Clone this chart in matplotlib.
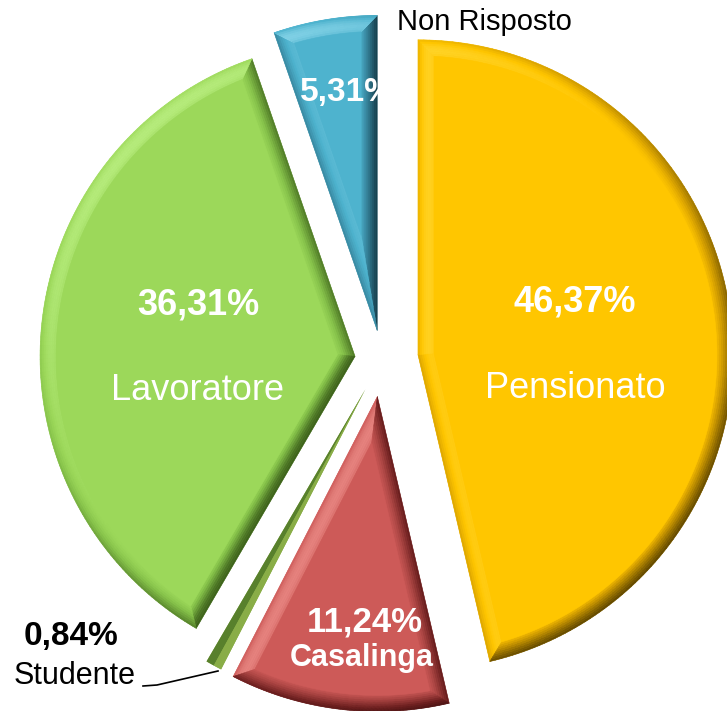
"""Exploded pie of respondents by occupation."""
import matplotlib
matplotlib.use('Agg')
import matplotlib.pyplot as plt
import numpy as np
from matplotlib.colors import LinearSegmentedColormap
from matplotlib.collections import PolyCollection
from matplotlib.patches import Polygon, Wedge

plt.rcParams['font.family'] = ['Liberation Sans', 'DejaVu Sans']

labels = ['Pensionato', 'Casalinga', 'Studente', 'Lavoratore', 'Non Risposto']
values = [46.37, 11.24, 0.84, 36.31, 5.31]
pct_text = ['46,37%', '11,24%', '0,84%', '36,31%', '5,31%']
explode = [0.115, 0.12, 0.11, 0.086, 0.092]

face_colors = ['#FFC600', '#CD5A58', '#8AAE48', '#9CD85A', '#4EB3CE']
# very dark, dark, mid, face, highlight
shade_colors = [['#2A1E00', '#8F6A00', '#DDA600', '#FFC600', '#FFDC40'],
                ['#1A0404', '#6A1E1E', '#B04846', '#CD5A58', '#E88682'],
                ['#33501A', '#557D2A', '#76993C', '#8AAE48', '#A8CC70'],
                ['#24400C', '#4E7826', '#86C24A', '#9CD85A', '#B6EC7C'],
                ['#05121A', '#1C4C5C', '#3C8FA8', '#4EB3CE', '#86D4E8']]
shade_stops = [0.0, 0.42, 0.72, 0.86, 1.0]

W, H = 727, 711
center = (382, 352)
R = 315
BEVEL = 16
LIGHT = np.array([-0.45, 0.5, 0.72])
LIGHT = LIGHT / np.linalg.norm(LIGHT)
NB = 8


def shade(n2, phi):
    # lambert on a tilted bevel; 0.86 on the colormap is the flat face colour
    t = np.cos(phi) * (n2[0] * LIGHT[0] + n2[1] * LIGHT[1]) + np.sin(phi) * LIGHT[2]
    delta = t - LIGHT[2]
    if delta <= 0:
        return 0.86 * (1 + delta / (1 + LIGHT[2]))
    return 0.86 + 0.14 * min(delta / (1 - LIGHT[2]), 1)


def bevel(cx, cy, r, t1, t2, d):
    a1, a2 = np.radians(t1), np.radians(t2)
    half = (a2 - a1) / 2
    mid = (a1 + a2) / 2
    k = d / np.sin(half)
    px, py = k * np.cos(mid), k * np.sin(mid)

    def hit(a):
        ux, uy = np.cos(a), np.sin(a)
        b = px * ux + py * uy
        c = px * px + py * py - (r - d) ** 2
        t = -b + np.sqrt(b * b - c)
        return px + t * ux, py + t * uy

    h1, h2 = hit(a1), hit(a2)
    b1 = np.arctan2(h1[1], h1[0])
    b2 = np.arctan2(h2[1], h2[0])
    while b2 < b1:
        b2 += 2 * np.pi
    A = np.array([cx, cy])
    Ai = A + [px, py]
    angs = np.linspace(a1, a2, 160)
    outer_arc = [A + r * np.array([np.cos(a), np.sin(a)]) for a in angs]
    inner_arc = [A + (r - d) * np.array([np.cos(b), np.sin(b)])
                 for b in np.linspace(b1, b2, 160)]
    face = [Ai] + inner_arc

    quads, vals = [], []
    s = np.linspace(0, 1, NB + 1)

    def strip(o0, o1, i0, i1, n2):
        for j in range(NB):
            q = [o0 + (i0 - o0) * s[j], o1 + (i1 - o1) * s[j],
                 o1 + (i1 - o1) * s[j + 1], o0 + (i0 - o0) * s[j + 1]]
            quads.append(q)
            sm = 0.5 * (s[j] + s[j + 1])
            vals.append(shade(n2, np.radians(8 + 70 * sm)))

    strip(A, outer_arc[0], Ai, inner_arc[0],
          (np.cos(a1 - np.pi / 2), np.sin(a1 - np.pi / 2)))
    strip(A, outer_arc[-1], Ai, inner_arc[-1],
          (np.cos(a2 + np.pi / 2), np.sin(a2 + np.pi / 2)))
    for m in range(len(angs) - 1):
        am = 0.5 * (angs[m] + angs[m + 1])
        strip(outer_arc[m], outer_arc[m + 1], inner_arc[m], inner_arc[m + 1],
              (np.cos(am), np.sin(am)))
    return face, quads, vals


fig = plt.figure(figsize=(7.27, 7.11), dpi=100)
ax = fig.add_axes([0, 0, 1, 1])
# pie explode is absolute, so scale by the radius
wedges, _ = ax.pie(values, explode=[e * R for e in explode], startangle=90,
                   counterclock=False, center=center, radius=R,
                   colors=face_colors, wedgeprops=dict(linewidth=0))

for i, w in enumerate(wedges):
    cmap = LinearSegmentedColormap.from_list(
        'sh%d' % i, list(zip(shade_stops, shade_colors[i])))
    cx, cy = w.center
    if labels[i] == 'Studente':
        tm = 0.5 * (w.theta1 + w.theta2)
        ax.add_patch(Wedge((cx, cy), w.r, w.theta1, tm, color=cmap(0.45), lw=0, zorder=2))
        ax.add_patch(Wedge((cx, cy), w.r, tm, w.theta2, color=cmap(0.85), lw=0, zorder=2))
        continue
    face, quads, vals = bevel(cx, cy, w.r, w.theta1, w.theta2, BEVEL)
    cols = [cmap(v) for v in vals]
    ax.add_collection(PolyCollection(quads, facecolors=cols, edgecolors=cols,
                                     linewidths=0.4, zorder=2))
    ax.add_patch(Polygon(face, closed=True, facecolor=face_colors[i],
                         edgecolor=face_colors[i], linewidth=0.4, zorder=3))

# labels inside slices
ax.text(575, 409, pct_text[0], color='white', fontsize=26, fontweight='bold',
        ha='center', va='center', zorder=5)
ax.text(575, 323, labels[0], color='white', fontsize=26, ha='center', va='center', zorder=5)
ax.text(198, 406, pct_text[3], color='white', fontsize=26, fontweight='bold',
        ha='center', va='center', zorder=5)
ax.text(198, 321, labels[3], color='white', fontsize=26, ha='center', va='center', zorder=5)
ax.text(365, 89, pct_text[1], color='white', fontsize=25, fontweight='bold',
        ha='center', va='center', zorder=5)
ax.text(362, 53, labels[1], color='white', fontsize=22, fontweight='bold',
        ha='center', va='center', zorder=5)
t = ax.text(347, 618, pct_text[4], color='white', fontsize=24, fontweight='bold',
            ha='center', va='center', zorder=5)
t.set_clip_path(wedges[4])

# labels outside
ax.text(484, 689, labels[4], color='black', fontsize=21, ha='center', va='center')
ax.text(71, 74, pct_text[2], color='black', fontsize=24, fontweight='bold',
        ha='center', va='center')
ax.text(75, 35, labels[2], color='black', fontsize=22, ha='center', va='center')
ax.plot([143, 157, 218], [25, 26, 40], color='black', linewidth=1.2, zorder=1)

ax.set_xlim(0, W)
ax.set_ylim(0, H)
ax.set_aspect('auto')
ax.axis('off')

fig.savefig('out.png', dpi=100)
